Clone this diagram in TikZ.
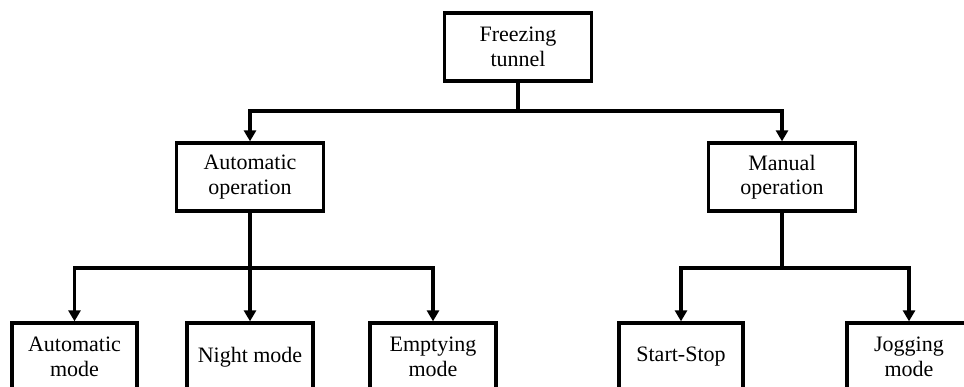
\documentclass[tikz,border=0pt]{standalone}
\usepackage{fontspec}
\setmainfont{Liberation Serif}
\usetikzlibrary{arrows.meta}
\tikzset{
  box/.style={draw, line width=3.3pt, fill=white, align=center,
    minimum height=68pt, inner sep=2pt,
    font=\fontsize{22}{24.5}\selectfont},
  wire/.style={line width=3.3pt, line join=miter},
  arr/.style={wire, -{Triangle[length=11pt,width=12pt]}}
}
\begin{document}
\begin{tikzpicture}[x=1pt,y=-1pt]
  \path[use as bounding box, clip] (0,0) rectangle (964,387);

  % root
  \node[box, minimum width=147pt] (top) at (518,47) {Freezing\\tunnel};

  % operation level
  \node[box, minimum width=147pt] (auto) at (250,177) {Automatic\\operation};
  \node[box, minimum width=147pt] (man)  at (782,177) {Manual\\operation};

  % modes
  \node[box, minimum width=125pt] (am) at (74.5,357) {Automatic\\mode};
  \node[box, minimum width=126pt] (nm) at (250,357)  {Night mode};
  \node[box, minimum width=126pt] (em) at (433,357)  {Emptying\\mode};
  \node[box, minimum width=124pt] (ss) at (681,357)  {Start-Stop};
  \node[box, minimum width=124pt] (jm) at (909,357)  {Jogging\\mode};

  % bus lines
  \coordinate (j1) at (0,111);
  \coordinate (j2) at (0,268);

  \draw[wire] (top.south) -- (top.south |- j1);
  \draw[arr] (top.south |- j1) -| (auto.north);
  \draw[arr] (top.south |- j1) -| (man.north);

  \draw[arr] (auto.south) -- (nm.north);
  \draw[arr] (auto.south |- j2) -| (am.north);
  \draw[arr] (auto.south |- j2) -| (em.north);

  \draw[wire] (man.south) -- (man.south |- j2);
  \draw[arr] (man.south |- j2) -| (ss.north);
  \draw[arr] (man.south |- j2) -| (jm.north);
\end{tikzpicture}
\end{document}
